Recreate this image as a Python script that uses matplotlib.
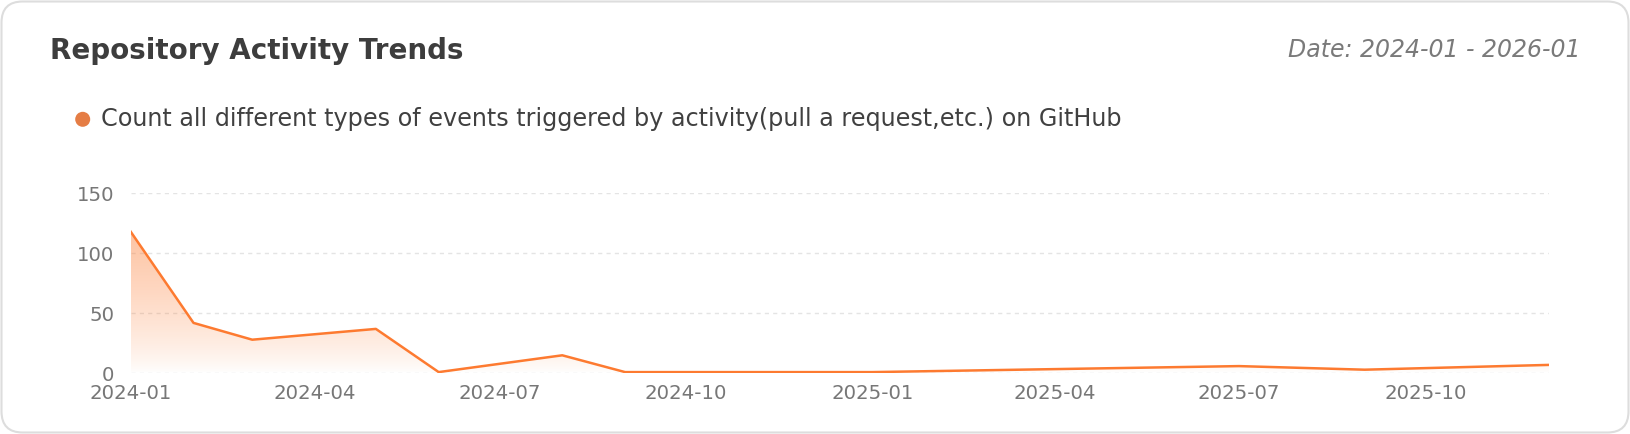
import matplotlib
matplotlib.use("Agg")
import matplotlib.pyplot as plt
import matplotlib.dates as mdates
import numpy as np
import pandas as pd
from matplotlib.patches import FancyBboxPatch, Circle
from matplotlib.colors import ListedColormap

# data
months = ["2024-01", "2024-02", "2024-03", "2024-05", "2024-06", "2024-08",
          "2024-09", "2025-01", "2025-07", "2025-09", "2025-12"]
counts = [118, 42, 28, 37, 1, 15, 1, 1, 6, 3, 7]
tick_months = ["2024-01", "2024-04", "2024-07", "2024-10",
               "2025-01", "2025-04", "2025-07", "2025-10"]

title = "Repository Activity Trends"
date_range = "Date: 2024-01 - 2026-01"
series_name = "Count all different types of events triggered by activity(pull a request,etc.) on GitHub"

line_color = "#fd7a30"
dot_color = "#e57d45"
W, H = 1630, 434

plt.rcParams["font.family"] = ["DejaVu Sans"]

dates = pd.to_datetime(months)
xnum = mdates.date2num(dates)

fig = plt.figure(figsize=(W / 100, H / 100), dpi=100)
fig.patch.set_facecolor("white")

# rounded card border
card = FancyBboxPatch((1.5 / W, 1.5 / H), (W - 3) / W, (H - 3) / H,
                      boxstyle="round,pad=0,rounding_size=0.013",
                      transform=fig.transFigure, facecolor="none",
                      edgecolor="#dddddd", linewidth=1.5, mutation_aspect=W / H,
                      zorder=-1)
fig.patches.append(card)

fig.text(50 / W, 1 - 59 / H, title, fontsize=20, fontweight="bold",
         color="#3d3d3d", va="baseline", ha="left")
fig.text(1581 / W, 1 - 57 / H, date_range, fontsize=17.0, style="italic",
         color="#7a7a7a", va="baseline", ha="right")

# legend
fig.patches.append(Circle((82.7, H - 119.3), 7.5, transform=None,
                          facecolor=dot_color, edgecolor="none"))
fig.text(101 / W, 1 - 126.5 / H, series_name, fontsize=17.2,
         color="#404040", va="baseline", ha="left")

ax = fig.add_axes([130.7 / W, 1 - 373.3 / H, (1549 - 130.7) / W, (373.3 - 193.3) / H])
ax.set_facecolor("none")

ax.plot(dates, counts, color=line_color, linewidth=1.8, zorder=3)

# gradient fill under the line
fill = ax.fill_between(dates, counts, 0, color="none", linewidth=0)
t = np.linspace(0, 1, 256)
rgba = np.zeros((256, 4))
rgba[:, 0], rgba[:, 1], rgba[:, 2] = 0.99, 0.48, 0.19
rgba[:, 3] = 0.45 * t ** 0.75
cmap = ListedColormap(rgba)
img = ax.imshow(t.reshape(-1, 1), cmap=cmap, aspect="auto", origin="lower",
                extent=[xnum[0], xnum[-1], 0, max(counts)], zorder=2)
img.set_clip_path(fill.get_paths()[0], transform=ax.transData)

ax.set_xlim(xnum[0], xnum[-1])
ax.set_ylim(0, 150)
ax.set_yticks([0, 50, 100, 150])
ax.set_xticks(mdates.date2num(pd.to_datetime(tick_months)))
ax.set_xticklabels(tick_months)

ax.grid(axis="y", color="#e4e4e4", linestyle=(0, (3, 3)), linewidth=1)
ax.set_axisbelow(True)
for s in ax.spines.values():
    s.set_visible(False)
ax.tick_params(axis="both", length=0, labelsize=14.2, colors="#777777")
ax.tick_params(axis="y", pad=12)
ax.tick_params(axis="x", pad=7.5)

fig.savefig("out.png", dpi=100, facecolor="white")
